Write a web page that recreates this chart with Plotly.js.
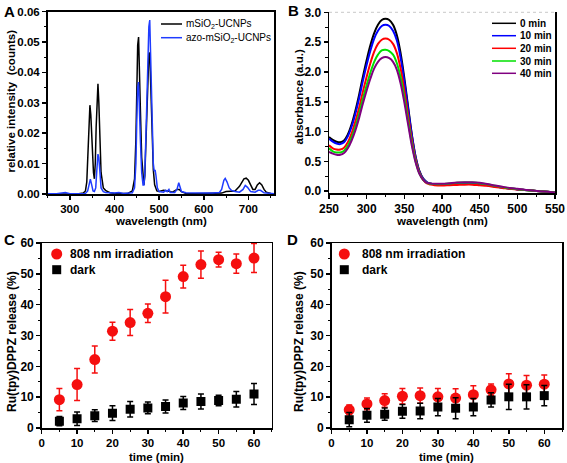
<!DOCTYPE html>
<html>
<head>
<meta charset="utf-8">
<script src="https://cdn.plot.ly/plotly-3.0.1.min.js"></script>
<style>html,body{margin:0;padding:0;background:#fff;}#chart{width:567px;height:463px;}</style>
</head>
<body>
<div id="chart"></div>
<script>
// ---------- Panel A: upconversion emission spectra ----------
const aBlackWl  = [250,270,290,300,320,330,335,338,341,343,345,347,350,353,355,357,359,361,363,365,367,370,375,380,385,390,400,410,420,430,440,445,448,450,452,454,456,458,461,464,466,468,471,474,477,479,481,484,487,490,495,500,510,520,530,540,545,550,560,580,600,620,640,650,660,670,680,685,690,695,700,705,710,715,720,725,730,735,740,750,758];
const aBlackVal = [0,0,0.0002,0.0001,0.0001,0.0003,0.001,0.004,0.013,0.022,0.0292,0.026,0.015,0.007,0.005,0.01,0.022,0.033,0.0362,0.030,0.018,0.007,0.002,0.0012,0.0008,0.0004,0.0002,0.0002,0.0001,0.0002,0.001,0.005,0.018,0.035,0.049,0.0516,0.043,0.028,0.012,0.004,0.003,0.006,0.018,0.035,0.046,0.0465,0.038,0.02,0.008,0.003,0.001,0.0008,0.0012,0.001,0.0006,0.0015,0.0015,0.0008,0.0002,0.0001,0.0001,0.0002,0.0003,0.0008,0.0008,0.001,0.0025,0.004,0.005,0.0052,0.0045,0.003,0.0015,0.0015,0.003,0.0037,0.003,0.0015,0.0006,0.0002,0.0001];
const aBlueWl   = [250,270,290,295,300,320,335,340,343,346,349,352,355,358,361,363,365,367,370,375,380,400,410,420,440,445,448,450,452,454,456,458,461,464,466,468,471,474,477,479,481,484,487,489,491,493,496,500,510,515,518,522,525,535,540,544,547,550,560,580,600,620,635,640,645,648,652,657,662,670,680,688,693,698,705,715,722,727,735,745,758];
const aBlueVal  = [0.0001,0.0001,0.0005,0.0002,0.0001,0.0001,0.0002,0.001,0.003,0.0049,0.003,0.001,0.0008,0.002,0.009,0.0131,0.012,0.006,0.002,0.0008,0.0005,0.0003,0.0005,0.0002,0.0004,0.002,0.01,0.024,0.035,0.0368,0.03,0.018,0.007,0.003,0.003,0.007,0.022,0.042,0.055,0.0572,0.046,0.025,0.01,0.0075,0.0079,0.006,0.002,0.0008,0.0006,0.0012,0.0008,0.0015,0.0005,0.0005,0.0015,0.0037,0.0025,0.0008,0.0004,0.0003,0.0002,0.0003,0.0005,0.0015,0.0045,0.0051,0.004,0.002,0.0012,0.0008,0.0006,0.0015,0.0028,0.0022,0.0008,0.0006,0.0012,0.0012,0.0004,0.0002,0.0001];
const aNames = ['mSiO<sub>2</sub>-UCNPs', 'azo-mSiO<sub>2</sub>-UCNPs'];

// ---------- Panel B: absorbance spectra ----------
const bWl = [250,255,260,265,270,275,280,285,290,295,300,305,310,315,320,325,330,335,340,345,350,355,360,365,370,375,380,385,390,400,410,420,430,440,450,460,470,480,490,500,510,520,530,540,550];
const b0  = [0.91,0.86,0.83,0.82,0.85,0.95,1.12,1.35,1.62,1.92,2.20,2.45,2.65,2.79,2.87,2.89,2.87,2.79,2.62,2.32,1.90,1.42,0.95,0.58,0.34,0.21,0.15,0.125,0.115,0.11,0.115,0.125,0.13,0.13,0.12,0.10,0.08,0.06,0.045,0.03,0.02,0.01,0.0,-0.01,-0.02];
const b10 = [0.88,0.83,0.80,0.79,0.82,0.92,1.08,1.30,1.56,1.85,2.12,2.36,2.56,2.69,2.77,2.79,2.77,2.69,2.53,2.24,1.84,1.38,0.93,0.57,0.33,0.21,0.15,0.125,0.115,0.11,0.115,0.125,0.13,0.13,0.12,0.10,0.08,0.06,0.045,0.03,0.02,0.01,0.0,-0.01,-0.02];
const b20 = [0.77,0.72,0.70,0.70,0.73,0.82,0.97,1.17,1.40,1.67,1.92,2.15,2.34,2.47,2.54,2.56,2.54,2.47,2.32,2.06,1.69,1.27,0.86,0.53,0.31,0.19,0.13,0.11,0.10,0.095,0.10,0.105,0.11,0.11,0.10,0.09,0.07,0.055,0.04,0.03,0.02,0.01,0.0,-0.01,-0.02];
const b30 = [0.72,0.67,0.65,0.65,0.68,0.76,0.90,1.08,1.30,1.55,1.78,1.99,2.17,2.29,2.36,2.37,2.35,2.29,2.15,1.91,1.57,1.18,0.80,0.50,0.30,0.19,0.14,0.125,0.12,0.12,0.13,0.14,0.145,0.145,0.135,0.115,0.09,0.07,0.05,0.035,0.02,0.01,0.0,-0.01,-0.02];
const b40 = [0.66,0.63,0.61,0.61,0.64,0.72,0.85,1.02,1.23,1.47,1.69,1.89,2.06,2.17,2.23,2.25,2.23,2.17,2.04,1.81,1.49,1.12,0.76,0.48,0.29,0.19,0.14,0.13,0.125,0.125,0.135,0.145,0.15,0.15,0.14,0.12,0.095,0.075,0.055,0.04,0.025,0.01,0.0,-0.01,-0.02];
const bNames = ['0 min','10 min','20 min','30 min','40 min'];

// ---------- Panels C & D: release ----------
const time = [5,10,15,20,25,30,35,40,45,50,55,60];
const cIrr    = [9.2,14.1,22.2,31.4,34.2,37.2,42.6,49.1,53.0,54.6,53.3,55.1];
const cIrrErr = [3.6,5.2,4.4,2.9,4.2,3.0,5.3,3.7,4.4,2.4,3.1,4.7];
const cDark    = [2.2,3.0,4.0,4.8,6.1,6.5,7.0,8.1,8.6,8.9,9.3,11.0];
const cDarkErr = [1.5,2.2,1.9,2.4,2.5,1.9,2.1,2.1,2.4,1.7,2.5,3.4];
const dIrr    = [5.9,7.8,8.9,10.3,10.5,10.1,9.7,10.8,12.4,14.3,13.9,14.2];
const dIrrErr = [1.6,1.9,2.2,2.5,2.5,2.7,3.0,2.9,1.9,3.3,3.1,3.0];
const dDark    = [2.7,4.1,4.5,5.4,5.5,6.8,6.4,6.8,9.1,10.1,10.1,10.5];
const dDarkErr = [2.3,2.2,2.0,2.2,2.5,2.8,3.4,2.8,2.3,4.1,3.9,3.3];
const cdNames = ['808 nm irradiation','dark'];

// ---------- layout helpers ----------
const W = 567, H = 463;
const px = x => x / W;
const py = y => 1 - y / H;
const FONT = 'Liberation Sans, Arial, Helvetica, sans-serif';

function axis(domain, range, dtick, minor, fmt, mirror, fsize) {
  return {
    domain: domain, range: range, dtick: dtick, tick0: 0,
    showline: true, linecolor: '#000', linewidth: 1.5, mirror: mirror,
    ticks: 'outside', ticklen: 4, tickwidth: 1.5, tickcolor: '#000',
    minor: {dtick: minor, ticks: 'outside', ticklen: 2.5, tickwidth: 1, tickcolor: '#000'},
    showgrid: false, zeroline: false,
    tickfont: {family: FONT, size: fsize, color: '#000', weight: 'bold'}, tickformat: fmt,
    fixedrange: true
  };
}

const traces = [];
// A
traces.push({x: aBlackWl, y: aBlackVal, xaxis: 'x', yaxis: 'y', type: 'scatter', mode: 'lines',
  name: aNames[0], line: {color: '#000', width: 1.5}});
traces.push({x: aBlueWl, y: aBlueVal, xaxis: 'x', yaxis: 'y', type: 'scatter', mode: 'lines',
  name: aNames[1], line: {color: '#1f3cff', width: 1.5}});
// B
const bSeries = [b0, b10, b20, b30, b40];
const bColors = ['#000000', '#0000ff', '#ff0000', '#00e000', '#800080'];
bSeries.forEach((s, i) => traces.push({x: bWl, y: s, xaxis: 'x2', yaxis: 'y2', type: 'scatter', mode: 'lines',
  name: bNames[i], line: {color: bColors[i], width: 2, shape: 'spline'}}));
// C, D
function pts(xa, ya, y, err, color, symbol, size, name) {
  return {x: time, y: y, xaxis: xa, yaxis: ya, type: 'scatter', mode: 'markers', name: name,
    marker: {color: color, symbol: symbol, size: size, line: {width: 0}},
    error_y: {type: 'data', array: err, visible: true, color: color, thickness: 1.5, width: 3}};
}
traces.push(pts('x3', 'y3', cIrr, cIrrErr, '#f50f0f', 'circle', 11, cdNames[0]));
traces.push(pts('x3', 'y3', cDark, cDarkErr, '#000', 'square', 9, cdNames[1]));
traces.push(pts('x4', 'y4', dIrr, dIrrErr, '#f50f0f', 'circle', 11, cdNames[0]));
traces.push(pts('x4', 'y4', dDark, dDarkErr, '#000', 'square', 9, cdNames[1]));

const layout = {
  width: W, height: H, autosize: false,
  margin: {l: 0, r: 0, t: 0, b: 0},
  paper_bgcolor: '#fff', plot_bgcolor: '#fff',
  showlegend: false,
  font: {family: FONT, color: '#000'},
  xaxis:  Object.assign(axis([px(47.5), px(274.3)], [250, 758], 100, 50, 'd', true, 11.5), {anchor: 'y'}),
  yaxis:  Object.assign(axis([py(194), py(11.5)], [0, 0.06], 0.01, 0.005, '.2f', true, 11.5), {anchor: 'x'}),
  xaxis2: Object.assign(axis([px(329), px(555)], [250, 550], 50, 25, 'd', false, 12), {anchor: 'y2'}),
  yaxis2: Object.assign(axis([py(193.3), py(12.3)], [-0.035, 3.0], 0.5, 0.25, '.1f', true, 12), {anchor: 'x2'}),
  xaxis3: Object.assign(axis([px(41.7), px(271.7)], [0, 65], 10, 5, 'd', true, 11.5), {anchor: 'y3'}),
  yaxis3: Object.assign(axis([py(428), py(243)], [0, 60], 10, 5, 'd', true, 12), {anchor: 'x3'}),
  xaxis4: Object.assign(axis([px(331.5), px(562)], [0, 65], 10, 5, 'd', true, 11.5), {anchor: 'y4'}),
  yaxis4: Object.assign(axis([py(428), py(243)], [0, 60], 10, 5, 'd', true, 12), {anchor: 'x4'}),
  shapes: [], annotations: []
};

function ann(text, x, y, size, opts) {
  layout.annotations.push(Object.assign({text: text, x: px(x), y: py(y), xref: 'paper', yref: 'paper',
    showarrow: false, xanchor: 'center', yanchor: 'middle',
    font: {family: FONT, size: size, color: '#000', weight: 'bold'}}, opts || {}));
}
// panel letters
ann('A', 9, 11, 15); ann('B', 293.5, 10, 15); ann('C', 9.5, 239, 15); ann('D', 292.5, 239, 15);
// axis titles
ann('wavelength (nm)', 161, 220.5, 11.5);
ann('relative intensity  (counts)', 10.5, 101, 11.5, {textangle: -90});
ann('wavelength (nm)', 442, 220.5, 11.5);
ann('absorbance (a.u.)', 298.5, 97, 11.5, {textangle: -90});
ann('time (min)', 156.7, 456.5, 11.5);
ann('Ru(tpy)DPPZ release (%)', 12, 342, 12, {textangle: -90});
ann('time (min)', 446.7, 456.5, 11.5);
ann('Ru(tpy)DPPZ release (%)', 299, 342, 12, {textangle: -90});

// B: light dotted top border
layout.shapes.push({type: 'line', xref: 'paper', yref: 'paper', x0: px(329), x1: px(555), y0: py(12.3), y1: py(12.3),
  line: {color: '#c8c8c8', width: 1, dash: 'dot'}});

// legends (drawn from series names / colours)
function legLine(x0, x1, y, color, w) {
  layout.shapes.push({type: 'line', xref: 'paper', yref: 'paper', x0: px(x0), x1: px(x1), y0: py(y), y1: py(y),
    line: {color: color, width: w}});
}
function legText(text, x, y, size, weight) {
  ann(text, x, y, size, {xanchor: 'left', font: {family: FONT, size: size, color: '#000', weight: weight}});
}
// A legend
legLine(161, 182, 24, '#000', 1.5); legText(aNames[0], 184, 24, 10, 'normal');
legLine(161, 182, 37.7, '#1f3cff', 1.5); legText(aNames[1], 184, 37.7, 10, 'normal');
// B legend
const bRows = [23.3, 35.7, 48.3, 61, 73.3];
bNames.forEach((n, i) => { legLine(492, 516, bRows[i], bColors[i], 1.5); legText(n, 518, bRows[i], 10, 'bold'); });
// C, D legends
function legMarkers(cx, tx) {
  layout.shapes.push({type: 'circle', xref: 'paper', yref: 'paper', x0: px(cx - 5.5), x1: px(cx + 5.5),
    y0: py(254 + 5.5), y1: py(254 - 5.5), fillcolor: '#f50f0f', line: {width: 0}});
  layout.shapes.push({type: 'rect', xref: 'paper', yref: 'paper', x0: px(cx - 4.5), x1: px(cx + 4.5),
    y0: py(269.7 + 4.5), y1: py(269.7 - 4.5), fillcolor: '#000', line: {width: 0}});
  legText(cdNames[0], tx, 254, 12, 'bold');
  legText(cdNames[1], tx, 269.7, 12, 'bold');
}
legMarkers(56.7, 68); legMarkers(344.3, 359.5);

Plotly.newPlot('chart', traces, layout, {staticPlot: true, displayModeBar: false});
</script>
</body>
</html>
